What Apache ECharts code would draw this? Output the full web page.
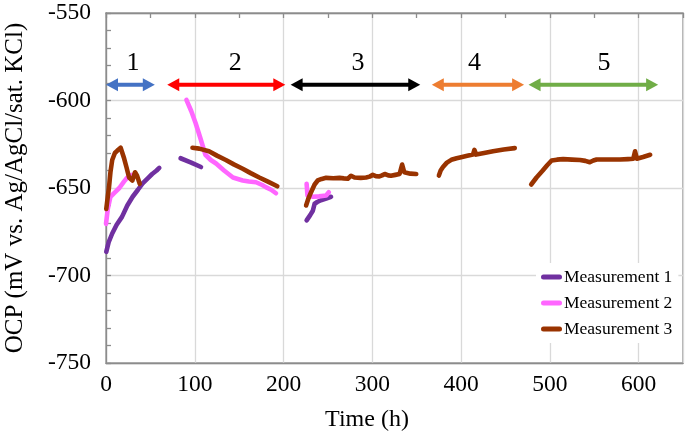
<!DOCTYPE html>
<html>
<head>
<meta charset="utf-8">
<script src="https://cdn.jsdelivr.net/npm/echarts@6/dist/echarts.min.js"></script>
<style>html,body{margin:0;padding:0;background:#fff}#c{width:685px;height:437px}</style>
</head>
<body>
<div id="c"></div>
<script>
// ---- data ----
const seriesNames = ['Measurement 1', 'Measurement 2', 'Measurement 3'];
const xTicks = [0, 100, 200, 300, 400, 500, 600];
const yTicks = [-750, -700, -650, -600, -550];

// Measurement 1 segments [time h, OCP mV]
const m1Seg1 = [[0.3,-686.5],[3,-681],[7,-676],[12,-671],[18,-666.5],[24,-660],[30,-655],[36,-651],[41,-647.5],[47,-644.5],[52,-642],[57,-640],[60,-638.5]];
const m1Seg2 = [[84,-633],[96,-635.5],[107,-638]];
const m1Seg3 = [[226,-668.5],[230,-665.5],[233,-663],[235,-659],[238,-658],[242,-657],[248,-656],[253.5,-655]];

// Measurement 2 segments
const m2Seg1 = [[0,-670.5],[2,-662],[5,-655],[10,-652.5],[15,-650],[20,-646.5],[24,-644],[29,-642.5]];
const m2Seg2 = [[90.6,-599.6],[96,-606],[101,-613],[106,-621],[112,-631],[118,-634],[124,-636],[133,-640],[143,-644],[154,-645.7],[161,-646.3],[169,-646.7],[176,-648.3],[180,-649.5],[186,-651],[191.5,-653]];
const m2Seg3 = [[226,-647.6],[227,-654.3],[233,-655],[240,-654.8],[248,-654.3],[251,-652.4]];

// Measurement 3 segments
const m3Seg1 = [[0.3,-662],[2,-655],[3.4,-649.5],[5,-641],[7,-634],[10,-630],[12.8,-628.6],[16.5,-627],[18,-628],[20,-632.4],[23,-638],[26,-644],[29.7,-645.7],[32.7,-641],[35,-643],[38,-647.6]];
const m3Seg2 = [[97.4,-627],[105,-627.5],[116,-629],[125,-631.5],[135,-634],[144,-636.5],[154,-639],[163,-641.5],[172.7,-644],[183,-646.5],[193,-649]];
const m3Seg3 = [[225.4,-660],[228,-656],[231,-652.4],[235,-648],[238.5,-645.7],[243,-644.8],[248,-644.2],[256,-644.4],[263,-644.2],[268,-644.5],[272.4,-644.7],[276,-643],[280,-644],[287,-644.2],[293,-644],[297,-643.5],[300.6,-642.5],[304,-643.2],[308,-643.4],[311,-642.8],[314,-642],[318,-642.8],[321,-643],[326,-642.5],[330.7,-642],[333.6,-636.6],[336,-641],[343,-641.8],[349.5,-642]];
const m3Seg4 = [[375,-642.9],[377,-640],[379.6,-638],[384,-635.5],[389,-633.9],[395,-633],[400,-632.4],[407,-631.6],[413.4,-630.9],[415,-628.2],[417,-630.9],[426,-630],[436,-629],[448,-628],[460.5,-627.2]];
const m3Seg5 = [[479,-648],[485,-644],[492,-640],[497,-637],[502,-634.3],[508,-633.8],[515,-633.5],[525,-633.8],[534,-634],[540,-634.5],[545,-635.3],[549,-634.3],[552.7,-633.7],[565,-633.7],[579,-633.7],[588,-633.5],[594,-633.3],[596,-629],[598,-633.3],[605,-632.3],[613,-631]];

// Stage arrows (time span) and labels
const arrowStart = [0, 69, 208, 367, 476];
const arrowEnd = [55, 202, 354, 471, 622];
const arrowLabels = ['1', '2', '3', '4', '5'];
const arrowLabelTime = [30.5, 145.6, 284, 415, 561];
const arrowLevel = -591;
const arrowLabelLevel = -578.5;

// ---- styles ----
const seriesColors = ['#7030A0', '#FF66FF', '#993300'];
const arrowColors = ['#4472C4', '#FF0000', '#000000', '#ED7D31', '#70AD47'];
const FONT = '"Liberation Serif", "Times New Roman", serif';
const axisGray = '#8c8c8c';
const gridGray = '#d9d9d9';

function joinSegs(segs) {
  const out = [];
  segs.forEach((s, i) => {
    if (i > 0) out.push(['-', '-']);
    s.forEach(p => out.push(p));
  });
  return out;
}
const seriesData = [
  joinSegs([m1Seg1, m1Seg2, m1Seg3]),
  joinSegs([m2Seg1, m2Seg2, m2Seg3]),
  joinSegs([m3Seg1, m3Seg2, m3Seg3, m3Seg4, m3Seg5])
];
const arrowData = arrowStart.map((s, i) => [s, arrowEnd[i], arrowLevel, arrowLabelTime[i], arrowLabelLevel]);

const chart = echarts.init(document.getElementById('c'), null, {renderer: 'canvas'});

const lineSeries = seriesNames.map((n, i) => ({
  name: n,
  type: 'line',
  data: seriesData[i],
  xAxisIndex: 0,
  yAxisIndex: 0,
  symbol: 'none',
  connectNulls: false,
  lineStyle: {color: seriesColors[i], width: 4.6, cap: 'round', join: 'round'},
  itemStyle: {color: seriesColors[i]},
  z: 3 + i
}));

const arrowSeries = {
  type: 'custom',
  xAxisIndex: 0,
  yAxisIndex: 0,
  data: arrowData,
  encode: {x: [0, 1, 3], y: [2, 4]},
  clip: false,
  silent: true,
  z: 10,
  renderItem: function (params, api) {
    const i = params.dataIndex;
    const a = api.coord([api.value(0), api.value(2)]);
    const b = api.coord([api.value(1), api.value(2)]);
    const t = api.coord([api.value(3), api.value(4)]);
    const col = arrowColors[i];
    const L = 12, H = 6.5, y = a[1];
    return {
      type: 'group',
      children: [
        {type: 'line', shape: {x1: a[0] + L - 1, y1: y, x2: b[0] - L + 1, y2: y}, style: {stroke: col, lineWidth: 4}},
        {type: 'polygon', shape: {points: [[a[0], y], [a[0] + L, y - H], [a[0] + L, y + H]]}, style: {fill: col}},
        {type: 'polygon', shape: {points: [[b[0], y], [b[0] - L, y - H], [b[0] - L, y + H]]}, style: {fill: col}},
        {type: 'text', x: t[0], y: t[1], style: {text: arrowLabels[i], fill: '#000', font: '26px ' + FONT, align: 'center', verticalAlign: 'middle'}}
      ]
    };
  }
};

chart.setOption({
  animation: false,
  backgroundColor: '#fff',
  textStyle: {fontFamily: FONT},
  grid: {left: 106, right: 2, top: 13, bottom: 74, show: true, borderColor: axisGray, borderWidth: 1.3, backgroundColor: 'transparent', containLabel: false, outerBoundsMode: 'none'},
  legend: {
    show: true,
    data: seriesNames,
    orient: 'vertical',
    left: 536,
    top: 263,
    itemWidth: 21,
    itemHeight: 5,
    itemGap: 8,
    padding: [5, 6, 5, 5],
    backgroundColor: '#fff',
    icon: 'path://M2.5,0 H18.5 A2.5,2.5 0 0 1 18.5,5 H2.5 A2.5,2.5 0 0 1 2.5,0 Z',
    textStyle: {fontFamily: FONT, fontSize: 17.5, color: '#000', padding: [0, 0, 0, -3]},
    selectedMode: false
  },
  xAxis: [
    {
      type: 'value', position: 'bottom', min: 0, max: 650, interval: 100,
      axisLine: {show: true, lineStyle: {color: axisGray, width: 1.3}},
      axisTick: {show: false},
      axisLabel: {show: true, color: '#000', fontSize: 23.5, fontFamily: FONT, margin: 10, showMaxLabel: false,
        formatter: v => (xTicks.indexOf(v) >= 0 ? String(v) : '')},
      splitLine: {show: true, lineStyle: {color: gridGray, width: 1.3}}
    },
    {
      type: 'value', position: 'top', min: 0, max: 650, interval: 100,
      axisLine: {show: true, lineStyle: {color: axisGray, width: 1.3}},
      axisTick: {show: true, inside: true, length: 5, lineStyle: {color: axisGray, width: 1.3}},
      minorTick: {show: true, splitNumber: 2, length: 5, lineStyle: {color: axisGray, width: 1.3}},
      axisLabel: {show: false},
      splitLine: {show: false}
    }
  ],
  yAxis: [{
    type: 'value', min: -750, max: -550, interval: 50,
    axisLine: {show: true, lineStyle: {color: axisGray, width: 1.3}},
    axisTick: {show: true, inside: true, length: 5, lineStyle: {color: axisGray, width: 1.3}},
    minorTick: {show: true, splitNumber: 5, length: 5, lineStyle: {color: axisGray, width: 1.3}},
    axisLabel: {show: true, color: '#000', fontSize: 23.5, fontFamily: FONT, margin: 15,
      formatter: v => (yTicks.indexOf(v) >= 0 ? String(v) : '')},
    splitLine: {show: true, lineStyle: {color: gridGray, width: 1.3}}
  }],
  graphic: [
    {type: 'text', x: 15, y: 188, rotation: Math.PI / 2, style: {text: 'OCP (mV vs. Ag/AgCl/sat. KCl)', fill: '#000', font: '25px ' + FONT, align: 'center', verticalAlign: 'middle'}},
    {type: 'text', x: 367, y: 420, style: {text: 'Time (h)', fill: '#000', font: '24px ' + FONT, align: 'center', verticalAlign: 'middle'}}
  ],
  series: lineSeries.concat([arrowSeries])
});
</script>
</body>
</html>
